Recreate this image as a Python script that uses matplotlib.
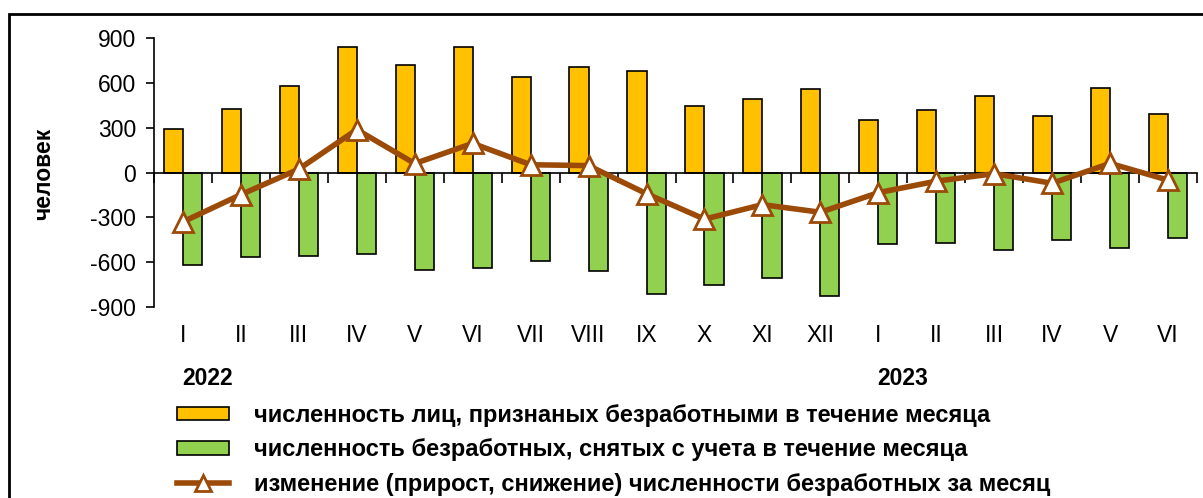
import numpy as np
import matplotlib.pyplot as plt
from matplotlib.patches import Rectangle
from matplotlib.lines import Line2D
from matplotlib.patches import Patch

plt.rcParams['font.family'] = ['Liberation Sans', 'DejaVu Sans']
plt.rcParams['axes.unicode_minus'] = False

# months I 2022 .. VI 2023
months = ['I', 'II', 'III', 'IV', 'V', 'VI', 'VII', 'VIII', 'IX', 'X', 'XI', 'XII',
          'I', 'II', 'III', 'IV', 'V', 'VI']
years = ['2022', '2023']

# recognised as unemployed during the month
registered = [290, 422, 582, 837, 718, 841, 640, 705, 676, 446, 495, 562,
              348, 419, 511, 379, 564, 390]
# removed from the register during the month
removed = [-616, -567, -558, -547, -654, -641, -589, -661, -815, -755, -708, -828,
           -480, -473, -516, -449, -502, -438]
# monthly change
change = [-330, -148, 23, 287, 60, 195, 52, 46, -142, -312, -215, -266,
          -135, -58, -8, -72, 61, -51]

yellow = '#FFC000'
green = '#92D050'
brown = '#9B4A08'
fs = 16.5

fig = plt.figure(figsize=(12.03, 4.98), dpi=100)
ax = fig.add_axes([154 / 1203, 1 - 307 / 498, (1197 - 154) / 1203, (307 - 38) / 498])

x = np.arange(len(months))
w = 0.33
ax.bar(x - w / 2, registered, w, color=yellow, edgecolor='black', linewidth=1.2, zorder=2)
ax.bar(x + w / 2, removed, w, color=green, edgecolor='black', linewidth=1.2, zorder=2)
ax.plot(x, change, color=brown, linewidth=4, marker='^', markersize=14,
        markerfacecolor='white', markeredgecolor=brown, markeredgewidth=2, zorder=4,
        clip_on=False)

ax.set_xlim(-0.5, len(months) - 0.5)
ax.set_ylim(-900, 900)
ax.set_yticks([-900, -600, -300, 0, 300, 600, 900])
ax.tick_params(axis='y', direction='out', length=6, width=1.2, labelsize=fs, pad=7)

ax.spines['top'].set_visible(False)
ax.spines['right'].set_visible(False)
ax.spines['bottom'].set_position(('data', 0))
ax.spines['bottom'].set_zorder(3)
ax.spines['left'].set_linewidth(1.2)
ax.spines['bottom'].set_linewidth(1.2)
ax.set_xticks(np.arange(len(months) + 1) - 0.5)
ax.set_xticklabels([])
ax.tick_params(axis='x', direction='out', length=7, width=1.2)

tr = ax.get_xaxis_transform()
for i, m in enumerate(months):
    ax.text(i, -0.105, m, transform=tr, ha='center', va='center', fontsize=fs)
ax.text(-0.02, -0.265, years[0], transform=tr, ha='left', va='center',
        fontsize=fs, fontweight='bold')
ax.text(12 - 0.02, -0.265, years[1], transform=tr, ha='left', va='center',
        fontsize=fs, fontweight='bold')

fig.text(44 / 1203, 1 - 174 / 498, 'человек', rotation=90, ha='center', va='center',
         fontsize=fs, fontweight='bold')

handles = [
    Patch(facecolor=yellow, edgecolor='black', linewidth=1.2),
    Patch(facecolor=green, edgecolor='black', linewidth=1.2),
    Line2D([], [], color=brown, linewidth=4, marker='^', markersize=11,
           markerfacecolor='white', markeredgecolor=brown, markeredgewidth=2),
]
labels = [
    'численность лиц, признаных безработными в течение месяца',
    'численность безработных, снятых с учета в течение месяца',
    'изменение (прирост, снижение) численности безработных за месяц',
]
fig.legend(handles, labels, loc='upper left', bbox_to_anchor=(177 / 1203, 1 - 404 / 498),
           frameon=False, borderpad=0, borderaxespad=0, handlelength=2.2,
           handleheight=0.51, handletextpad=1.05, labelspacing=0.48,
           prop={'size': 17, 'weight': 'bold'})

# outer frame (cut by the picture edge on the right and bottom)
fig.patches.append(Rectangle((9 / 1203, -0.1), 1.2, 1 - 14 / 498 + 0.1,
                             transform=fig.transFigure, fill=False,
                             edgecolor='black', linewidth=2))

fig.savefig('out.png', dpi=100)
